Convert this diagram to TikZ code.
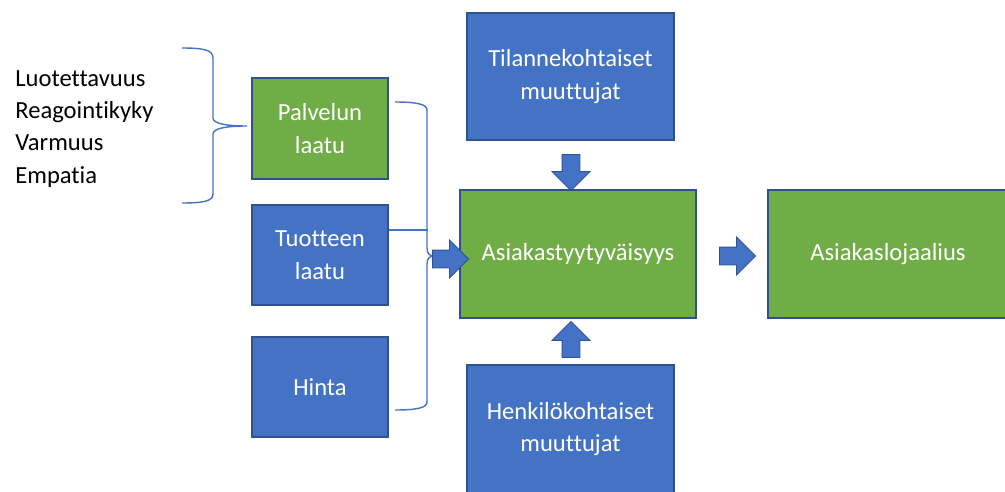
\documentclass[tikz,border=0pt]{standalone}
\usepackage{fontspec}
\setmainfont{Carlito}[Ligatures=NoCommon]
\usepackage{tikz}
\usetikzlibrary{shapes,shapes.arrows,calc,positioning}
\definecolor{boxblue}{HTML}{4472C4}
\definecolor{boxgreen}{HTML}{70AD47}
\definecolor{boxline}{HTML}{2F528F}
\tikzset{
    box/.style ={rectangle, draw=boxline, line width=0.7pt, text=white, align=center, inner sep=0pt, font=\fontsize{14}{18.5}\selectfont},
    bluebox/.style ={box, fill=boxblue},
    greenbox/.style ={box, fill=boxgreen},
    blockarrow/.style ={single arrow, draw=boxline, fill=boxblue, line width=0.5pt, inner xsep=0pt, inner ysep=0.17cm, minimum width=0.74cm, minimum height=0.72cm, single arrow head extend=0.2cm},
    brace/.style ={draw=boxblue, line width=0.8pt}
}

\begin{document}
\begin{tikzpicture}[x=0.02cm, y=-0.02cm]
    \useasboundingbox (0,0) rectangle (1005,491);

    % Nodes
    \node[anchor=west, align=left, inner sep=0pt, font=\fontsize{14}{18.3}\selectfont] (dims) at (15,129) {Luotettavuus\\Reagointikyky\\Varmuus\\Empatia};
    \node[greenbox, minimum width=2.72cm, minimum height=2.02cm] (palvelu) at (320,128.5) {Palvelun\\laatu};
    \node[bluebox, minimum width=2.72cm, minimum height=2cm] (tuote) at (320,255) {Tuotteen\\laatu};
    \node[bluebox, minimum width=2.72cm, minimum height=2cm] (hinta) at (320,387) {Hinta};
    \node[bluebox, minimum width=4.14cm, minimum height=2.54cm] (tilanne) at (570.5,76.5) {Tilannekohtaiset\\muuttujat};
    \node[greenbox, minimum width=4.72cm, minimum height=2.56cm] (tyyty) at (578,254) {Asiakastyytyväisyys};
    \node[greenbox, minimum width=4.8cm, minimum height=2.56cm] (lojaali) at (888,254) {Asiakaslojaalius};
    \node[bluebox, minimum width=4.14cm, minimum height=2.56cm] (henkilo) at (570.5,429) {Henkilökohtaiset\\muuttujat};

    % Braces
    \draw[brace] (182,48) .. controls (204,48) and (213,50) .. (213,58)
        -- (213,118) .. controls (213,124) and (228,126) .. (247,126)
        coordinate (tipL)
        .. controls (228,126) and (213,128) .. (213,134)
        -- (213,194) .. controls (213,201) and (204,203) .. (182,203);
    \draw[brace] (395,102) .. controls (416,102) and (427,104) .. (427,110)
        -- (427,248) .. controls (427,254) and (430,256) .. (434,256)
        coordinate (tipR)
        .. controls (430,256) and (427,258) .. (427,264)
        -- (427,402) .. controls (427,408) and (416,410) .. (395,410);
    \draw[brace] ($(tuote.east)+(0,-25)$) -- ($(tuote.east)+(39,-25)$);

    % Arrows
    \node[blockarrow, rotate=-90] (a1) at (571,168) {};
    \node[blockarrow, rotate=90] (a2) at (571,344) {};
    \node[blockarrow] (a3) at (446,259) {};
    \node[blockarrow] (a4) at (733,256) {};

\end{tikzpicture}
\end{document}
